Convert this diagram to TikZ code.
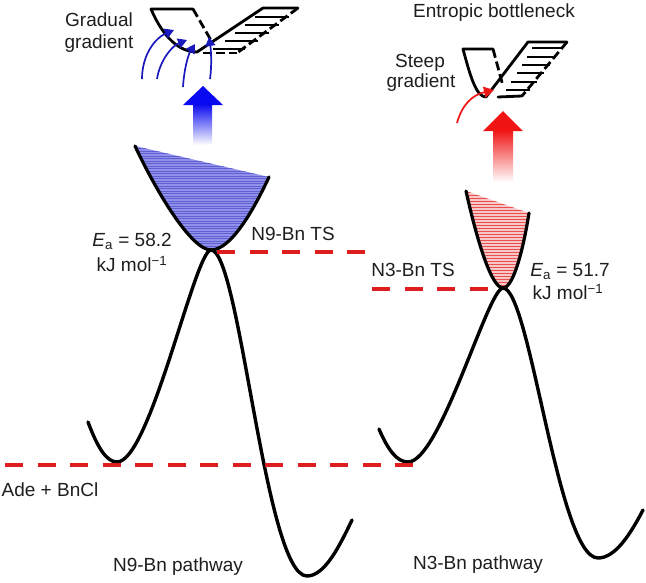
\documentclass[tikz,border=0pt]{standalone}
\usepackage{fontspec}
\setmainfont{Liberation Sans}
\usetikzlibrary{arrows.meta}
\definecolor{dred}{RGB}{222,30,30}
\definecolor{ared}{RGB}{240,20,20}
\definecolor{fblue}{RGB}{145,145,235}
\definecolor{sblue}{RGB}{95,95,210}
\definecolor{fred}{RGB}{248,200,200}
\definecolor{sred}{RGB}{232,80,80}
\definecolor{abblue}{RGB}{10,10,240}
\definecolor{cblue}{RGB}{25,25,190}
\definecolor{txt}{RGB}{30,30,30}
\begin{document}
\begin{tikzpicture}[x=1pt,y=-1pt,
  lbl/.style={font=\fontsize{19}{22}\selectfont, text=txt, inner sep=0pt, anchor=base},
  curve/.style={line width=3.4pt, line cap=round, line join=round},
  level/.style={dred, line width=4.8pt, dash pattern=on 18.3pt off 14.2pt},
  outline/.style={line width=3.2pt, line cap=round},
  icon/.style={line width=2.8pt, line cap=round, line join=round},
  icondash/.style={line width=2.8pt, dash pattern=on 9pt off 4pt},
  hatch/.style={line width=2.2pt},
  carrow/.style={cblue, line width=1.7pt, -{Triangle[length=9pt,width=10pt]}},
]
\useasboundingbox (0,0) rectangle (646,582);

% key coordinates
\coordinate (p9) at (211,250);
\coordinate (p3) at (503,288);
\coordinate (adeL) at (5,465);
\coordinate (adeR) at (415,465);
\coordinate (ts9L) at (217,252);
\coordinate (ts9R) at (366,252);
\coordinate (ts3L) at (372,289);
\coordinate (ts3R) at (488,289);

% ---------- blue funnel ----------
\begin{scope}
  \clip (135,146) .. controls (158,195) and (192,250) .. (p9) .. controls (232,250) and (256,205) .. (269,177) -- cycle;
  \fill[fblue] (130,140) rectangle (275,255);
  \foreach \yy in {141,143.5,...,254} \draw[sblue, line width=0.6pt] (130,\yy) -- (275,\yy);
\end{scope}
\draw[outline] (135,146) .. controls (158,195) and (192,250) .. (p9) .. controls (232,250) and (256,205) .. (269,177);

% ---------- red funnel ----------
\begin{scope}
  \clip (466,191) .. controls (478,245) and (492,288) .. (p3) .. controls (514,288) and (524,245) .. (529,213) -- cycle;
  \fill[fred] (460,185) rectangle (535,292);
  \foreach \yy in {186,189,...,291} \draw[sred, line width=0.9pt] (460,\yy) -- (535,\yy);
\end{scope}
\draw[outline] (466,191) .. controls (478,245) and (492,288) .. (p3) .. controls (514,288) and (524,245) .. (529,213);

% ---------- energy curves ----------
\draw[curve] (88,422) .. controls (97,446) and (106,462) .. (117,462)
  .. controls (150,462) and (195,250) .. (p9)
  .. controls (240,250) and (265,576) .. (307,576)
  .. controls (325,576) and (340,545) .. (352,520);
\draw[curve] (379,429) .. controls (388,450) and (397,462) .. (408,462)
  .. controls (440,462) and (488,288) .. (p3)
  .. controls (530,288) and (558,558) .. (598,558)
  .. controls (615,558) and (630,535) .. (643,510);

% ---------- levels ----------
\draw[level] (adeL) -- (adeR);
\draw[level] (ts9L) -- (ts9R);
\draw[level] (ts3L) -- (ts3R);

% ---------- big arrows ----------
\shade[top color=abblue, bottom color=white] (193,104) rectangle (212,145);
\fill[abblue] (183,105) -- (203,86) -- (223,105) -- cycle;
\shade[top color=ared, bottom color=white] (493,130) rectangle (513,182);
\fill[ared] (483,131) -- (503,111) -- (523,131) -- cycle;

% ---------- left icon (gradual) ----------
\draw[icon] (193,9) -- (151,9) .. controls (160,30) and (175,52) .. (197,52) -- (263,8) -- (298,8);
\draw[icondash] (193,9) -- (212,42);
\draw[icondash] (298,8) -- (237,53);
\draw[icondash] (203,53) -- (237,53);
\draw[hatch] (255,17) -- (289,17);
\draw[hatch] (245,25) -- (279,25);
\draw[hatch] (235,33) -- (269,33);
\draw[hatch] (225,41) -- (258,41);
\draw[hatch] (213,49) -- (245,49);

\draw[carrow] (142,79) .. controls (142,55) and (155,38) .. (174,30);
\draw[carrow] (157,79) .. controls (160,60) and (172,46) .. (187,40);
\draw[carrow] (183,87) .. controls (184,70) and (188,55) .. (195,44);
\draw[carrow] (210,79) .. controls (212,65) and (211,50) .. (209,37);

% ---------- right icon (steep) ----------
\draw[icon] (493,49) -- (463,49) .. controls (470,75) and (476,97) .. (486,97) -- (528,42) -- (567,42);
\draw[icondash] (493,49) -- (503,86);
\draw[icondash] (567,42) -- (522,96);
\draw[icon] (498,97) -- (522,96);
\draw[hatch] (532,48) -- (562,48);
\draw[hatch] (527,57) -- (556,57);
\draw[hatch] (522,65) -- (550,65);
\draw[hatch] (517,73) -- (544,73);
\draw[hatch] (511,82) -- (537,82);
\draw[hatch] (506,90) -- (530,90);
\draw[ared, line width=1.7pt, -{Triangle[length=10pt,width=11pt]}] (457,123) .. controls (462,105) and (472,95) .. (494,90);

% ---------- labels ----------
\node[lbl] (gradA) at (99,26) {Gradual};
\node[lbl] (gradB) at (99,48) {gradient};
\node[lbl] (entro) at (494,17.5) {Entropic bottleneck};
\node[lbl] (steepA) at (420,67) {Steep};
\node[lbl] (steepB) at (421,87.5) {gradient};
\node[lbl] (ea9a) at (132,246.7) {\textit{E}\textsubscript{a} = 58.2};
\node[lbl] (ea9b) at (132,271.7) {kJ mol\textsuperscript{−1}};
\node[lbl] (ts9) at (293,240) {N9-Bn TS};
\node[lbl] (ts3) at (413,276) {N3-Bn TS};
\node[lbl] (ea3a) at (570,276.7) {\textit{E}\textsubscript{a} = 51.7};
\node[lbl] (ea3b) at (568,299.3) {kJ mol\textsuperscript{−1}};
\node[lbl] (ade) at (50,496) {Ade + BnCl};
\node[lbl] (path9) at (178,571) {N9-Bn pathway};
\node[lbl] (path3) at (478,569) {N3-Bn pathway};
\end{tikzpicture}
\end{document}
